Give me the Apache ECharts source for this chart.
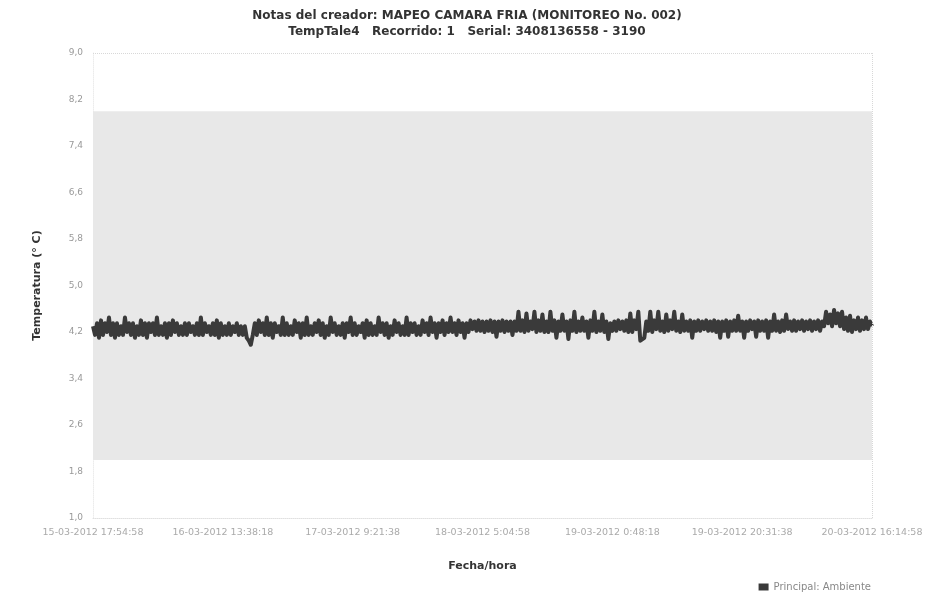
<!DOCTYPE html>
<html>
<head>
<meta charset="utf-8">
<script src="https://cdn.jsdelivr.net/npm/echarts@6/dist/echarts.min.js"></script>
<style>html,body{margin:0;padding:0;background:#fff}#chart{width:934px;height:601px}</style>
</head>
<body>
<div id="chart"></div>
<script>
var titleLine1 = 'Notas del creador: MAPEO CAMARA FRIA (MONITOREO No. 002)';
var titleLine2 = 'TempTale4   Recorrido: 1   Serial: 3408136558 - 3190';
var xTickLabels = ['15-03-2012 17:54:58','16-03-2012 13:38:18','17-03-2012 9:21:38','18-03-2012 5:04:58','19-03-2012 0:48:18','19-03-2012 20:31:38','20-03-2012 16:14:58'];
var yTickLabels = ['1,0','1,8','2,6','3,4','4,2','5,0','5,8','6,6','7,4','8,2','9,0'];
var seriesName = 'Principal: Ambiente';
var acceptRange = [2.0, 8.0];
var samplesPerTick = 65;
var temps = [
4.3,4.15,4.35,4.1,4.4,4.15,4.35,4.2,4.45,4.15,4.35,4.1,4.35,4.15,4.3,4.15,4.45,4.2,4.35,4.15,
4.35,4.1,4.3,4.15,4.4,4.15,4.35,4.1,4.35,4.2,4.35,4.15,4.45,4.15,4.3,4.15,4.35,4.1,4.35,4.15,
4.4,4.2,4.35,4.15,4.3,4.15,4.35,4.15,4.35,4.2,4.3,4.15,4.35,4.15,4.45,4.15,4.35,4.2,4.3,4.15,
4.35,4.15,4.4,4.1,4.35,4.15,4.3,4.15,4.35,4.15,4.3,4.2,4.35,4.15,4.3,4.15,4.3,4.1,4.05,3.98,
4.15,4.35,4.15,4.4,4.2,4.35,4.15,4.45,4.15,4.35,4.1,4.35,4.2,4.3,4.15,4.45,4.15,4.35,4.15,4.3,
4.15,4.4,4.2,4.35,4.1,4.35,4.15,4.45,4.15,4.3,4.15,4.35,4.2,4.4,4.15,4.35,4.1,4.3,4.15,4.45,
4.2,4.35,4.15,4.3,4.15,4.35,4.1,4.35,4.2,4.45,4.15,4.35,4.15,4.3,4.2,4.35,4.1,4.4,4.15,4.35,
4.15,4.3,4.15,4.45,4.2,4.35,4.15,4.35,4.1,4.3,4.15,4.4,4.2,4.35,4.15,4.3,4.15,4.45,4.15,4.35,
4.2,4.35,4.15,4.3,4.15,4.4,4.2,4.35,4.15,4.45,4.2,4.35,4.1,4.35,4.2,4.4,4.15,4.35,4.2,4.45,
4.2,4.35,4.15,4.4,4.2,4.35,4.1,4.35,4.2,4.4,4.25,4.38,4.22,4.4,
4.22,4.38,4.2,4.38,4.22,4.4,4.2,4.38,4.12,4.38,4.22,4.4,4.2,4.38,4.22,4.38,4.15,4.38,4.22,4.55,
4.22,4.4,4.2,4.52,4.22,4.38,4.25,4.55,4.2,4.4,4.22,4.5,4.2,4.38,4.2,4.55,4.22,4.4,4.1,4.38,
4.22,4.5,4.22,4.38,4.08,4.4,4.22,4.55,4.2,4.38,4.22,4.45,4.22,4.38,4.1,4.4,4.22,4.55,4.2,4.38,
4.22,4.5,4.2,4.38,4.08,4.35,4.22,4.38,4.22,4.4,4.25,4.38,4.22,4.4,4.2,4.52,4.2,4.4,4.25,4.55,
4.05,4.02,4.1,4.38,4.22,4.55,4.2,4.4,4.25,4.55,4.22,4.38,4.2,4.5,4.22,4.4,4.25,4.55,4.22,4.38,
4.2,4.5,4.22,4.38,4.22,4.4,4.1,4.38,4.22,4.4,4.22,4.38,4.25,4.4,4.22,4.38,4.22,4.4,4.2,4.38,
4.1,4.38,4.22,4.4,4.12,4.38,4.22,4.4,4.22,4.48,4.22,4.38,4.1,4.38,4.22,4.4,4.25,4.38,4.12,4.4,
4.22,4.38,4.22,4.4,4.1,4.38,4.22,4.5,4.22,4.38,4.2,4.4,4.22,4.5,4.25,4.38,4.22,4.4,4.22,4.38,
4.25,4.4,4.22,4.38,4.25,4.4,4.22,4.38,4.25,4.4,4.22,4.38,4.3,4.55,4.35,4.5,4.3,4.58,4.35,4.52,
4.3,4.55,4.25,4.45,4.22,4.48,4.2,4.4,4.25,4.45,4.22,4.4,4.25,4.45,4.25,4.38,4.3
];

var seriesData = temps.map(function (v, i) { return [i, v]; });
var xMax = (xTickLabels.length - 1) * samplesPerTick;
var font = 'DejaVu Sans';

var chart = echarts.init(document.getElementById('chart'), null, {renderer: 'canvas'});
chart.setOption({
  animation: false,
  backgroundColor: '#ffffff',
  title: {
    text: titleLine1 + '\n' + titleLine2,
    left: 'center',
    top: 3,
    textStyle: {fontFamily: font, fontSize: 12, fontWeight: 'bold', color: '#333', lineHeight: 16}
  },
  legend: {
    right: 58,
    bottom: 4,
    icon: 'rect',
    itemWidth: 10,
    itemHeight: 7,
    textStyle: {fontFamily: font, fontSize: 10, color: '#888'},
    data: [seriesName]
  },
  grid: {left: 93, right: 62, top: 53, bottom: 83, containLabel: false},
  xAxis: {
    type: 'value',
    min: 0,
    max: xMax,
    interval: samplesPerTick,
    name: 'Fecha/hora',
    nameLocation: 'middle',
    nameGap: 43,
    nameTextStyle: {fontFamily: font, fontSize: 11, fontWeight: 'bold', color: '#333'},
    axisLine: {show: true, lineStyle: {color: '#e0e0e0', type: 'dotted'}},
    axisTick: {show: false},
    splitLine: {show: false},
    axisLabel: {
      fontFamily: font, fontSize: 9.5, color: '#aaa', margin: 10,
      formatter: function (v) { return xTickLabels[Math.round(v / samplesPerTick)] || ''; }
    }
  },
  yAxis: {
    type: 'value',
    min: 1.0,
    max: 9.0,
    interval: 0.8,
    name: 'Temperatura (° C)',
    nameLocation: 'middle',
    nameGap: 50,
    nameRotate: 90,
    nameTextStyle: {fontFamily: font, fontSize: 11, fontWeight: 'bold', color: '#333'},
    axisLine: {show: true, lineStyle: {color: '#ececec', type: 'dotted'}},
    axisTick: {show: false},
    splitLine: {show: false},
    axisLabel: {
      fontFamily: font, fontSize: 9, color: '#999', margin: 10,
      formatter: function (v) { return yTickLabels[Math.round((v - 1.0) / 0.8)] || ''; }
    }
  },
  series: [{
    name: seriesName,
    type: 'line',
    data: seriesData,
    showSymbol: false,
    symbol: 'rect',
    lineStyle: {color: '#3a3a3a', width: 4, join: 'round'},
    itemStyle: {color: '#3a3a3a'},
    markArea: {
      silent: true,
      itemStyle: {color: '#e8e8e8'},
      data: [[{yAxis: acceptRange[0]}, {yAxis: acceptRange[1]}]]
    },
    markLine: {
      silent: true,
      symbol: 'none',
      label: {show: false},
      lineStyle: {color: '#d8d8d8', type: 'dotted', width: 1},
      data: [{xAxis: xMax}, {yAxis: 9.0}]
    }
  }]
});
</script>
</body>
</html>
